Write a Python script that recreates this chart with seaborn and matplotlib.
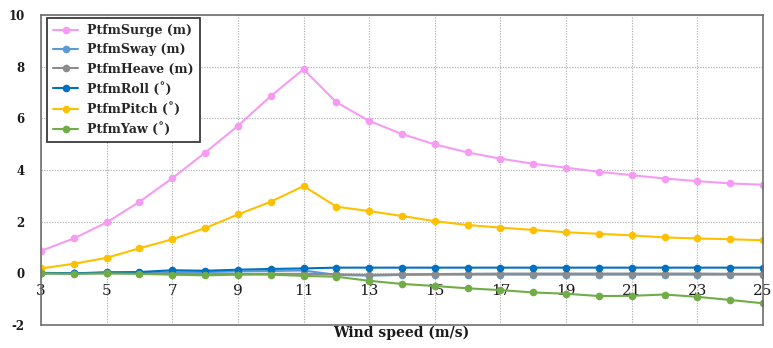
import matplotlib
matplotlib.use("Agg")
import matplotlib.pyplot as plt
import seaborn as sns
import pandas as pd

wind = list(range(3, 26))
surge = [0.87, 1.35, 1.97, 2.77, 3.68, 4.67, 5.71, 6.86, 7.90, 6.62, 5.90, 5.39, 4.99,
         4.68, 4.44, 4.24, 4.09, 3.93, 3.80, 3.67, 3.57, 3.48, 3.43]
sway = [0.0, 0.0, 0.02, 0.02, 0.04, 0.05, 0.07, 0.09, 0.11, -0.06, -0.09, -0.06, -0.05,
        -0.05, -0.05, -0.05, -0.05, -0.05, -0.05, -0.05, -0.05, -0.05, -0.05]
heave = [0.0, 0.0, 0.0, 0.0, -0.02, -0.03, -0.03, -0.02, -0.02, -0.04, -0.06, -0.04, -0.03,
         -0.02, -0.01, -0.01, -0.01, -0.01, -0.01, -0.01, -0.01, -0.02, -0.02]
roll = [0.02, 0.0, 0.04, 0.05, 0.12, 0.10, 0.14, 0.17, 0.19, 0.22, 0.22, 0.22, 0.22,
        0.22, 0.22, 0.22, 0.22, 0.22, 0.22, 0.22, 0.22, 0.22, 0.22]
pitch = [0.19, 0.37, 0.60, 0.97, 1.32, 1.75, 2.28, 2.77, 3.38, 2.58, 2.41, 2.22, 2.02,
         1.87, 1.77, 1.68, 1.59, 1.53, 1.47, 1.39, 1.35, 1.32, 1.28]
yaw = [0.0, -0.02, 0.0, -0.02, -0.05, -0.08, -0.05, -0.05, -0.10, -0.13, -0.29, -0.41, -0.49,
       -0.58, -0.65, -0.74, -0.79, -0.88, -0.87, -0.82, -0.91, -1.03, -1.16]

labels = ["PtfmSurge (m)", "PtfmSway (m)", "PtfmHeave (m)",
          "PtfmRoll (\u02da)", "PtfmPitch (\u02da)", "PtfmYaw (\u02da)"]
colors = ["#F59CF2", "#5B9BD5", "#8C8C8C", "#0070C0", "#FFC000", "#70AD47"]
series = [surge, sway, heave, roll, pitch, yaw]

xticks = list(range(3, 26, 2))
yticks = list(range(-2, 11, 2))

rows = []
for lab, vals in zip(labels, series):
    for w, v in zip(wind, vals):
        rows.append({"Wind speed": w, "value": v, "series": lab})
df = pd.DataFrame(rows)

sns.set_theme(style="white")
plt.rcParams["font.family"] = ["DejaVu Serif"]

fig = plt.figure(figsize=(7.73, 3.48), dpi=100)
ax = fig.add_axes([41 / 773, 1 - 325 / 348, 722 / 773, 310 / 348])

for lab, col in zip(labels, colors):
    sub = df[df["series"] == lab]
    sns.lineplot(data=sub, x="Wind speed", y="value", ax=ax, color=col, marker="o",
                 markersize=5.5, markeredgewidth=0, linewidth=1.5, label=lab)

ax.set_xlim(3, 25)
ax.set_ylim(-2, 10)
ax.set_xticks(xticks)
ax.set_yticks(yticks)
ax.set_xticklabels([str(t) for t in xticks], fontsize=8.5, fontweight="bold")
ax.set_yticklabels([str(t) for t in yticks], fontsize=8.5, fontweight="bold")
ax.grid(True, color="#B4B4B4", linestyle=(0, (1.2, 1.2)), linewidth=0.8)
ax.set_axisbelow(True)

for s in ["top", "left", "right"]:
    ax.spines[s].set_color("#6E6E6E")
    ax.spines[s].set_linewidth(1.2)
ax.spines["bottom"].set_position(("data", 0))
ax.spines["bottom"].set_alpha(0)
ax.plot([0, 1], [0, 0], transform=ax.transAxes, color="#6E6E6E", linewidth=1.2,
        clip_on=False, zorder=5)
ax.tick_params(axis="both", length=0, colors="#1a1a1a")
ax.tick_params(axis="x", pad=8)
ax.tick_params(axis="y", pad=12)

ax.set_ylabel("")
ax.set_xlabel("Wind speed (m/s)", fontsize=10, fontweight="bold", color="#1a1a1a")
ax.xaxis.set_label_coords(0.499, -0.003)
ax.xaxis.label.set_va("top")

leg = ax.legend(loc="upper left", bbox_to_anchor=(0.0085, 0.991), frameon=True,
                fancybox=False, edgecolor="#3A3A3A", framealpha=1,
                prop={"weight": "bold", "size": 9}, labelspacing=0.5,
                handlelength=2.0, handletextpad=0.7, borderpad=0.5, borderaxespad=0)
leg.get_frame().set_linewidth(1.3)

fig.savefig("out.png", dpi=100)
